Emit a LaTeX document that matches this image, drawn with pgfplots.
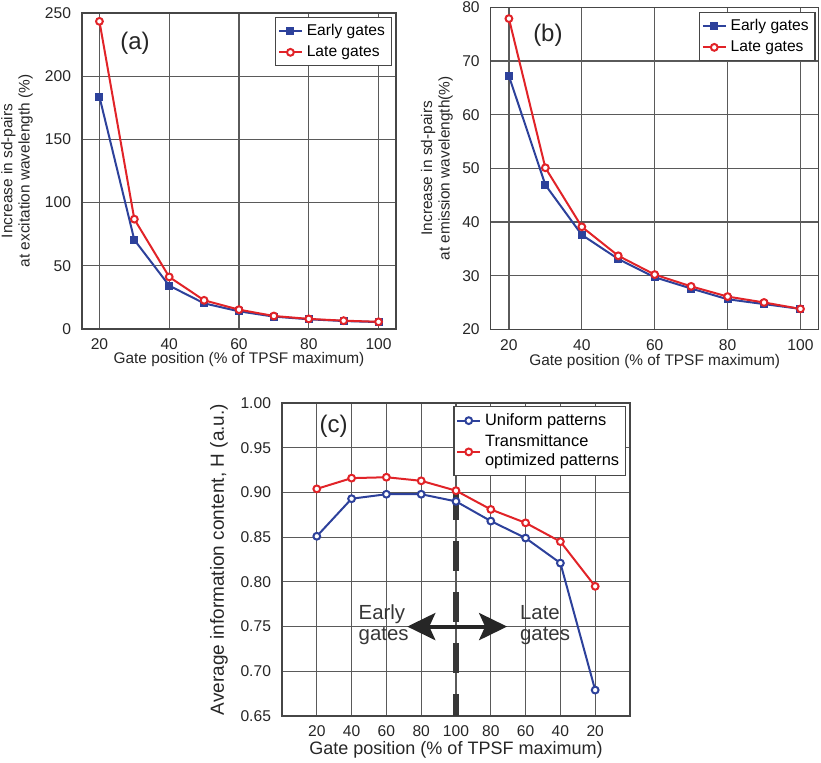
\documentclass[border=0pt]{standalone}
\usepackage{fontspec}
\setmainfont{Liberation Sans}
\usepackage{pgfplots}
\pgfplotsset{compat=1.18}
\usetikzlibrary{arrows.meta}

\definecolor{ublue}{RGB}{45,65,155}
\definecolor{ured}{RGB}{225,35,40}
\definecolor{gridc}{RGB}{90,90,90}
\definecolor{framec}{RGB}{70,70,70}
\definecolor{dashc}{RGB}{55,55,55}

\pgfplotsset{
  panel/.style={
    scale only axis,
    axis line style={framec, line width=0.65pt},
    grid=major,
    major grid style={gridc, line width=0.6pt},
    major tick length=0pt,
    tick label style={font=\fontsize{7.8}{8.8}\selectfont, text=black!85},
    label style={font=\fontsize{7.7}{8.7}\selectfont, text=black!85},
    /pgf/number format/assume math mode=true,
    xticklabel style={yshift=-1.5pt},
    yticklabel style={xshift=-2pt},
    legend cell align=left,
    legend style={font=\fontsize{7.8}{9}\selectfont, draw=framec, line width=0.65pt,
      inner sep=1.2pt, row sep=-0.5pt, anchor=north east},
    legend image code/.code={
      \draw[mark repeat=2, mark phase=2] plot coordinates {(0cm,0cm) (0.2cm,0cm) (0.4cm,0cm)};},
  },
  early/.style={ublue, line width=1pt, mark=square*, mark size=1.5pt,
    mark options={solid, fill=ublue}},
  late/.style={ured, line width=1pt, mark=*, mark size=1.7pt,
    mark options={solid, fill=white, draw=ured}},
  unif/.style={ublue, line width=1pt, mark=*, mark size=1.7pt,
    mark options={solid, fill=white, draw=ublue}},
}

\begin{document}
\begin{tikzpicture}
\useasboundingbox (0,0) rectangle (410.5pt,-381pt);

% (a)
\begin{axis}[panel,
  at={(41pt,-164.5pt)}, anchor=south west,
  width=157pt, height=158pt,
  xmin=15, xmax=105, ymin=0, ymax=250,
  xtick={20,40,60,80,100}, ytick={0,50,100,150,200,250},
  xlabel={Gate position (\% of TPSF maximum)},
  ylabel={Increase in sd-pairs\\at excitation wavelength (\%)},
  ylabel style={align=center, at={(axis description cs:-0.207,0.5)}, anchor=center},
  xlabel style={at={(axis description cs:0.5,-0.095)}, anchor=center},
  legend style={at={(axis description cs:0.987,0.987)}},
]
\addplot[early] coordinates {(20,183.7) (30,70.5) (40,34.3) (50,20.3) (60,14) (70,9.8) (80,7.7) (90,6.3) (100,5.5)};
\addplot[late] coordinates {(20,243.4) (30,86.9) (40,41.2) (50,22.7) (60,15.3) (70,10.3) (80,8.0) (90,6.6) (100,5.7)};
\legend{Early gates, Late gates}
\node[font=\fontsize{12}{13}\selectfont, text=black!85] at (axis cs:30.2,226) {(a)};
\end{axis}

% (b)
\begin{axis}[panel,
  at={(245.35pt,-164.65pt)}, anchor=south west,
  width=164pt, height=161pt,
  xmin=15, xmax=105, ymin=20, ymax=80,
  xtick={20,40,60,80,100}, ytick={20,30,40,50,60,70,80},
  xlabel={Gate position (\% of TPSF maximum)},
  ylabel={Increase in sd-pairs\\at emission wavelength(\%)},
  ylabel style={align=center, at={(axis description cs:-0.164,0.5)}, anchor=center},
  xlabel style={at={(axis description cs:0.5,-0.099)}, anchor=center},
  legend style={at={(axis description cs:0.991,0.985)}},
]
\addplot[early] coordinates {(20,67.2) (30,46.9) (40,37.6) (50,33.1) (60,29.7) (70,27.6) (80,25.6) (90,24.7) (100,23.8)};
\addplot[late] coordinates {(20,77.9) (30,50.1) (40,39.1) (50,33.7) (60,30.2) (70,28.0) (80,26.1) (90,25.0) (100,23.8)};
\legend{Early gates, Late gates}
\node[font=\fontsize{12}{13}\selectfont, text=black!85] at (axis cs:30.7,74.8) {(b)};
\end{axis}

% (c)
\begin{axis}[panel,
  at={(141pt,-358pt)}, anchor=south west,
  width=174pt, height=156.5pt,
  xmin=-1, xmax=9, ymin=0.65, ymax=1.0,
  xtick={0,1,2,3,4,5,6,7,8},
  xticklabels={20,40,60,80,100,80,60,40,20},
  ytick={0.65,0.70,0.75,0.80,0.85,0.90,0.95,1.00},
  yticklabel style={/pgf/number format/.cd, fixed, fixed zerofill, precision=2},
  xlabel={Gate position (\% of TPSF maximum)},
  ylabel={Average information content, H (a.u.)},
  xlabel style={font=\fontsize{9}{10}\selectfont, at={(axis description cs:0.5,-0.109)}, anchor=center},
  ylabel style={font=\fontsize{9.5}{10.5}\selectfont, at={(axis description cs:-0.181,0.5)}, anchor=center},
  legend style={font=\fontsize{8.2}{9.4}\selectfont, at={(axis description cs:0.989,0.99)}, cells={align=left}},
]
\addplot[unif] coordinates {(0,0.851) (1,0.893) (2,0.898) (3,0.898) (4,0.890) (5,0.868) (6,0.849) (7,0.821) (8,0.679)};
\addplot[late] coordinates {(0,0.904) (1,0.916) (2,0.917) (3,0.913) (4,0.902) (5,0.881) (6,0.866) (7,0.845) (8,0.795)};
\legend{Uniform patterns, Transmittance\\optimized patterns}
\addplot[dashc, line width=3pt, dash pattern=on 15pt off 10.5pt, forget plot]
  coordinates {(4,0.903) (4,0.65)};
\draw[black!85, line width=2pt,
  {Stealth[length=14pt,width=13.5pt,inset=3pt]}-{Stealth[length=14pt,width=13.5pt,inset=3pt]}]
  (axis cs:2.6,0.75) -- (axis cs:5.47,0.75);
\node[anchor=west, align=left, font=\fontsize{10.2}{10.5}\selectfont, text=dashc]
  at (axis cs:1.0,0.752) {Early\\gates};
\node[anchor=west, align=left, font=\fontsize{10.2}{10.5}\selectfont, text=dashc]
  at (axis cs:5.64,0.752) {Late\\gates};
\node[font=\fontsize{12}{13}\selectfont, text=black!85] at (axis cs:0.48,0.974) {(c)};
\end{axis}
\end{tikzpicture}
\end{document}
